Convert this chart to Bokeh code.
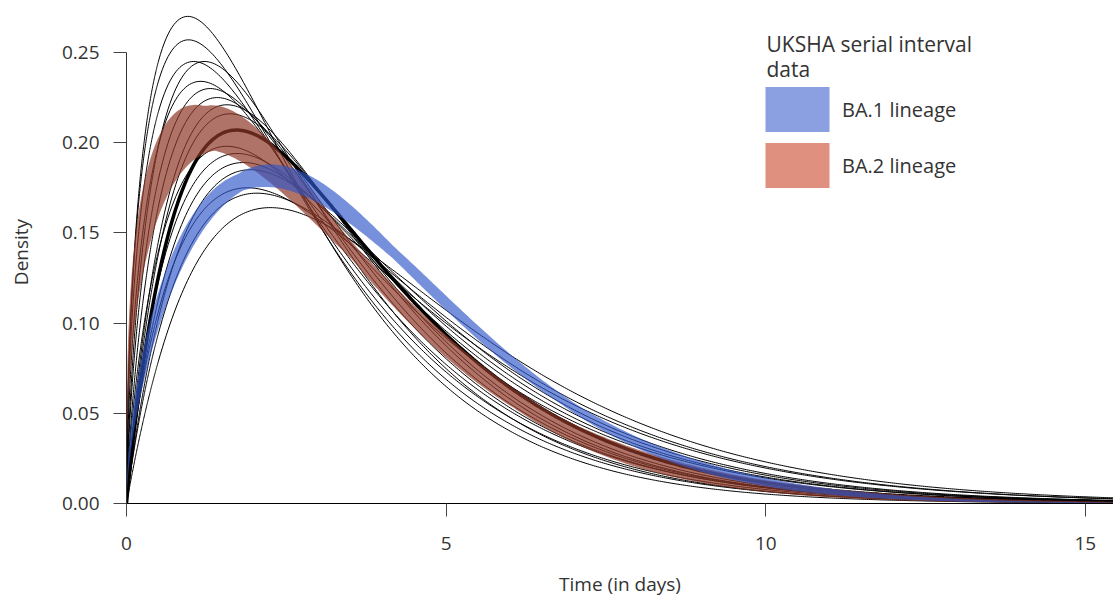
import math
import numpy as np
from bokeh.plotting import figure
from bokeh.models import (Range1d, Legend, LegendItem, Label, FixedTicker,
                          PrintfTickFormatter, ColumnDataSource)
from bokeh.embed import file_html
from bokeh.resources import INLINE

# ---- data ----
# thin black curves (published estimates, gamma shaped): mode (days) and peak density
study_modes = [0.96, 0.97, 1.05, 1.22, 1.16, 1.31, 1.42, 1.57, 1.62,
               1.57, 1.73, 1.83, 1.94, 1.89, 2.04, 2.25]
study_peaks = [0.270, 0.257, 0.245, 0.245, 0.234, 0.230, 0.225, 0.221, 0.216,
               0.198, 0.194, 0.189, 0.185, 0.175, 0.172, 0.164]
# thick black curve (pooled estimate)
pooled_mode = 1.72
pooled_peak = 0.207
# UKSHA serial interval bands (Weibull shape / scale ranges)
ba1_shape = [1.54, 1.62]
ba1_scale = [4.07, 4.28]
ba2_shape = [1.30, 1.39]
ba2_scale = [3.33, 3.75]

band_labels = ["BA.1 lineage", "BA.2 lineage"]
x_ticks = [0, 5, 10, 15]
y_ticks = [0.0, 0.05, 0.10, 0.15, 0.20, 0.25]

TEXT = "#333333"
FONT = "Open Sans"

x = np.concatenate([np.linspace(0, 0.5, 120, endpoint=False), np.linspace(0.5, 15.6, 500)])


def gamma_shape_from_mode_peak(mode, peak):
    target = mode * peak
    def h(k):
        return math.exp(k * math.log(k - 1) - (k - 1) - math.lgamma(k))
    lo, hi = 1.0001, 30.0
    for _ in range(100):
        mid = 0.5 * (lo + hi)
        if h(mid) < target:
            lo = mid
        else:
            hi = mid
    k = 0.5 * (lo + hi)
    return k, mode / (k - 1)


def gamma_pdf(xs, k, theta):
    out = np.zeros_like(xs)
    m = xs > 0
    xv = xs[m]
    out[m] = np.exp((k - 1) * np.log(xv) - xv / theta - math.lgamma(k) - k * math.log(theta))
    return out


def weibull_pdf(xs, k, lam):
    return (k / lam) * (xs / lam) ** (k - 1) * np.exp(-(xs / lam) ** k)


def band(shape_rng, scale_rng):
    curves = []
    for k in np.linspace(shape_rng[0], shape_rng[1], 7):
        for lam in np.linspace(scale_rng[0], scale_rng[1], 7):
            curves.append(weibull_pdf(x, k, lam))
    curves = np.array(curves)
    return curves.min(axis=0), curves.max(axis=0)


p = figure(width=1113, height=599, output_backend="svg", toolbar_location=None,
           x_range=Range1d(0, 15.44), y_range=Range1d(0, 0.2788),
           min_border_left=126, min_border_right=0, min_border_top=0, min_border_bottom=96)
p.outline_line_color = None
p.xgrid.visible = False
p.ygrid.visible = False
p.background_fill_color = "white"

for m, pk in zip(study_modes, study_peaks):
    k, th = gamma_shape_from_mode_peak(m, pk)
    p.line(x, gamma_pdf(x, k, th), line_color="black", line_width=1.0)

k, th = gamma_shape_from_mode_peak(pooled_mode, pooled_peak)
p.line(x, gamma_pdf(x, k, th), line_color="black", line_width=3.5)

lo2, hi2 = band(ba2_shape, ba2_scale)
p.varea(x=x, y1=lo2, y2=hi2, fill_color="#8e3827", fill_alpha=0.7)
lo1, hi1 = band(ba1_shape, ba1_scale)
p.varea(x=x, y1=lo1, y2=hi1, fill_color="#3157c8", fill_alpha=0.66)

# legend swatches (renderers kept outside the visible ranges)
hidden = ColumnDataSource(data=dict(l=[-3.0], r=[-2.0], t=[-0.2], b=[-0.3]))
sw1 = p.quad(left="l", right="r", top="t", bottom="b", source=hidden,
             fill_color="#8aa0e0", line_color=None)
sw2 = p.quad(left="l", right="r", top="t", bottom="b", source=hidden,
             fill_color="#e0907f", line_color=None)
legend = Legend(items=[LegendItem(label=band_labels[0], renderers=[sw1]),
                       LegendItem(label=band_labels[1], renderers=[sw2])],
                location=(631, 310), glyph_width=80, glyph_height=56,
                label_standoff=5, spacing=0, padding=0, margin=0,
                border_line_color=None, background_fill_alpha=0,
                label_text_font_size="20px", label_text_font=FONT,
                label_text_color=TEXT)
p.add_layout(legend)

for txt, yy in [("UKSHA serial interval", 459.7), ("data", 434.7)]:
    p.add_layout(Label(x=640, y=yy, x_units="screen", y_units="screen", text=txt,
                       text_font_size="21px", text_font=FONT, text_color=TEXT,
                       text_baseline="alphabetic"))

# axes
xa = p.xaxis[0]
xa.ticker = FixedTicker(ticks=x_ticks)
xa.minor_tick_line_color = None
xa.major_tick_in = 0
xa.major_tick_out = 13
xa.major_tick_line_color = "#444444"
xa.axis_line_color = "black"
xa.major_label_standoff = 20
xa.major_label_text_font_size = "19px"
xa.major_label_text_font = FONT
xa.major_label_text_color = TEXT
xa.axis_label = "Time (in days)"
xa.axis_label_text_font_size = "19px"
xa.axis_label_text_font = FONT
xa.axis_label_text_font_style = "normal"
xa.axis_label_text_color = TEXT
xa.axis_label_standoff = 18

ya = p.yaxis[0]
ya.ticker = FixedTicker(ticks=y_ticks)
ya.formatter = PrintfTickFormatter(format="%.2f")
ya.bounds = (0, 0.25)
ya.minor_tick_line_color = None
ya.major_tick_in = 0
ya.major_tick_out = 13
ya.major_tick_line_color = "#444444"
ya.axis_line_color = "#333333"
ya.major_label_standoff = 14
ya.major_label_text_font_size = "19px"
ya.major_label_text_font = FONT
ya.major_label_text_color = TEXT
ya.axis_label = "Density"
ya.axis_label_text_font_size = "19px"
ya.axis_label_text_font = FONT
ya.axis_label_text_font_style = "normal"
ya.axis_label_text_color = TEXT
ya.axis_label_standoff = 25

open("out.html", "w").write(file_html(p, INLINE))
